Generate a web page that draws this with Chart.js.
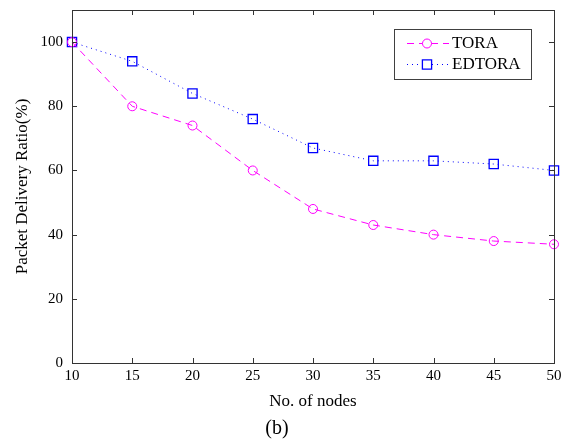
<!DOCTYPE html>
<html>
<head>
<meta charset="utf-8">
<script src="https://cdn.jsdelivr.net/npm/chart.js@4"></script>
<style>
    html, body { margin: 0; padding: 0; background: #fff; }
    #wrap { width: 574px; height: 441px; }
</style>
</head>
<body>
<div id="wrap"><canvas id="myChart" width="574" height="441"></canvas></div>
<script>
const nodes = [10, 15, 20, 25, 30, 35, 40, 45, 50];
const tora = [100, 80, 74, 60, 48, 43, 40, 38, 37];
const edtora = [100, 94, 84, 76, 67, 63, 63, 62, 60];
const yTicks = [0, 20, 40, 60, 80, 100];
const xTicks = [10, 15, 20, 25, 30, 35, 40, 45, 50];

const serif = '"Liberation Serif", "DejaVu Serif", serif';
const axisColor = '#333333';

const toPoints = (values) => values.map((v, i) => ({ x: nodes[i], y: v }));

// box, inward ticks and the legend, drawn like the matlab figure
const boxPlugin = {
    id: 'boxPlugin',
    afterDatasetsDraw(chart) {
        const ctx = chart.ctx;
        const area = chart.chartArea;
        const xs = chart.scales.x;
        const ys = chart.scales.y;
        ctx.save();
        ctx.strokeStyle = axisColor;
        ctx.lineWidth = 1;
        ctx.strokeRect(area.left + 0.5, area.top + 0.5, area.right - area.left, area.bottom - area.top);
        ctx.beginPath();
        for (let v of xTicks) {
            const px = Math.round(xs.getPixelForValue(v)) + 0.5;
            ctx.moveTo(px, area.bottom);
            ctx.lineTo(px, area.bottom - 5);
            ctx.moveTo(px, area.top);
            ctx.lineTo(px, area.top + 5);
        }
        for (let v of yTicks) {
            const py = Math.round(ys.getPixelForValue(v)) + 0.5;
            ctx.moveTo(area.left, py);
            ctx.lineTo(area.left + 5, py);
            ctx.moveTo(area.right, py);
            ctx.lineTo(area.right - 5, py);
        }
        ctx.stroke();

        // legend
        ctx.fillStyle = '#ffffff';
        ctx.fillRect(394, 29, 137, 50);
        ctx.strokeStyle = '#404040';
        ctx.strokeRect(394.5, 29.5, 137, 50);
        const rows = [43, 64];
        chart.data.datasets.forEach((ds, i) => {
            const y = rows[i];
            ctx.strokeStyle = ds.borderColor;
            ctx.lineWidth = 1;
            ctx.setLineDash(ds.borderDash);
            ctx.beginPath();
            ctx.moveTo(407, y + 0.5);
            ctx.lineTo(449, y + 0.5);
            ctx.stroke();
            ctx.setLineDash([]);
            ctx.fillStyle = '#ffffff';
            ctx.lineWidth = ds.pointBorderWidth;
            Chart.helpers.drawPoint(ctx, {
                pointStyle: ds.pointStyle,
                radius: ds.pointRadius,
                borderWidth: ds.pointBorderWidth
            }, 427, y + 0.5);
            ctx.fillStyle = '#000';
            ctx.font = '17px ' + serif;
            ctx.textBaseline = 'middle';
            ctx.fillText(ds.label, 452, y + 1);
        });
        ctx.restore();
    }
};

const ctx = document.getElementById('myChart').getContext('2d');
new Chart(ctx, {
    type: 'line',
    data: {
        datasets: [{
            label: 'TORA',
            data: toPoints(tora),
            borderColor: '#ff00ff',
            backgroundColor: 'rgba(0,0,0,0)',
            borderWidth: 1,
            borderDash: [7, 5],
            pointStyle: 'circle',
            pointRadius: 4.5,
            pointBorderWidth: 1,
            pointBorderColor: '#ff00ff',
            pointBackgroundColor: 'rgba(0,0,0,0)',
            tension: 0,
            clip: false
        }, {
            label: 'EDTORA',
            data: toPoints(edtora),
            borderColor: '#0000ff',
            backgroundColor: 'rgba(0,0,0,0)',
            borderWidth: 1,
            borderDash: [1, 4],
            pointStyle: 'rect',
            pointRadius: 6.5,
            pointBorderWidth: 1.3,
            pointBorderColor: '#0000ff',
            pointBackgroundColor: 'rgba(0,0,0,0)',
            tension: 0,
            clip: false
        }]
    },
    options: {
        responsive: false,
        animation: false,
        layout: {
            padding: { left: 0, top: 10, right: 20, bottom: 0 }
        },
        plugins: {
            legend: { display: false },
            tooltip: { enabled: false },
            title: {
                display: true,
                position: 'bottom',
                text: '(b)',
                color: '#000',
                font: { family: serif, size: 20, weight: 'normal' },
                padding: { top: 1, bottom: 0 }
            }
        },
        scales: {
            x: {
                type: 'linear',
                min: 10,
                max: 50,
                afterBuildTicks: (scale) => { scale.ticks = xTicks.map(v => ({ value: v })); },
                afterFit: (scale) => {
                    scale.height = 53;
                    scale.paddingLeft = 0;
                    scale.paddingRight = 0;
                },
                border: { display: false },
                grid: { display: false, drawTicks: false },
                ticks: {
                    color: '#000',
                    padding: 4,
                    maxRotation: 0,
                    font: { family: serif, size: 15 }
                },
                title: {
                    display: true,
                    text: 'No. of nodes',
                    color: '#000',
                    font: { family: serif, size: 17 },
                    padding: { top: 0, bottom: 4 }
                }
            },
            y: {
                min: 0,
                max: 110,
                afterBuildTicks: (scale) => { scale.ticks = yTicks.map(v => ({ value: v })); },
                afterFit: (scale) => {
                    scale.width = 72;
                    scale.paddingTop = 0;
                    scale.paddingBottom = 0;
                },
                border: { display: false },
                grid: { display: false, drawTicks: false },
                ticks: {
                    color: '#000',
                    padding: 9,
                    font: { family: serif, size: 15 }
                },
                title: {
                    display: true,
                    text: 'Packet Delivery Ratio(%)',
                    color: '#000',
                    font: { family: serif, size: 17 },
                    padding: { top: 12, bottom: 6 }
                }
            }
        }
    },
    plugins: [boxPlugin]
});
</script>
</body>
</html>
